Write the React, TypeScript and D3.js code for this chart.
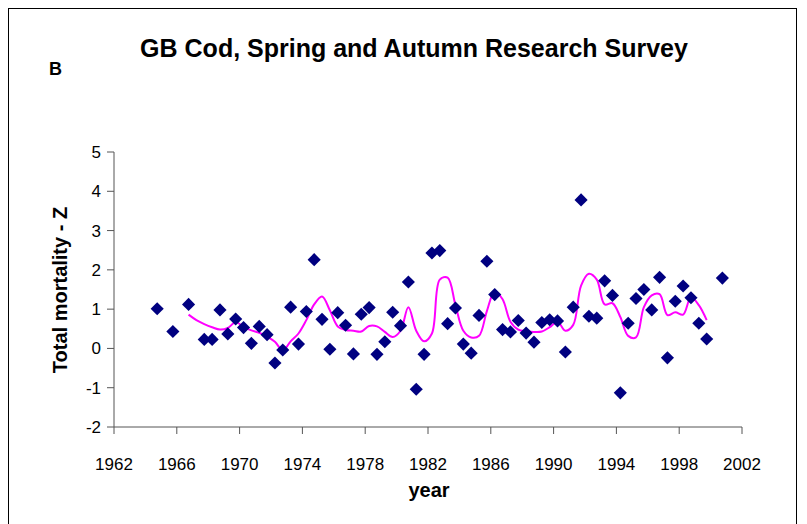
import React from "react";
import * as d3 from "d3";

// survey points (spring = .25, autumn = .75)
const years = [
  1964.75, 1965.75, 1966.75, 1967.75, 1968.25, 1968.75, 1969.25, 1969.75, 1970.25, 1970.75,
  1971.25, 1971.75, 1972.25, 1972.75, 1973.25, 1973.75, 1974.25, 1974.75, 1975.25, 1975.75,
  1976.25, 1976.75, 1977.25, 1977.75, 1978.25, 1978.75, 1979.25, 1979.75, 1980.25, 1980.75,
  1981.25, 1981.75, 1982.25, 1982.75, 1983.25, 1983.75, 1984.25, 1984.75, 1985.25, 1985.75,
  1986.25, 1986.75, 1987.25, 1987.75, 1988.25, 1988.75, 1989.25, 1989.75, 1990.25, 1990.75,
  1991.25, 1991.75, 1992.25, 1992.75, 1993.25, 1993.75, 1994.25, 1994.75, 1995.25, 1995.75,
  1996.25, 1996.75, 1997.25, 1997.75, 1998.25, 1998.75, 1999.25, 1999.75, 2000.75,
];
const zValues = [
  1.01, 0.43, 1.12, 0.23, 0.23, 0.98, 0.37, 0.75, 0.53, 0.13,
  0.56, 0.35, -0.37, -0.04, 1.05, 0.11, 0.94, 2.26, 0.74, -0.02,
  0.91, 0.59, -0.14, 0.87, 1.04, -0.15, 0.17, 0.92, 0.58, 1.69,
  -1.04, -0.15, 2.43, 2.49, 0.63, 1.03, 0.11, -0.12, 0.84, 2.22,
  1.37, 0.48, 0.42, 0.71, 0.39, 0.16, 0.66, 0.73, 0.7, -0.09,
  1.05, 3.78, 0.82, 0.77, 1.72, 1.35, -1.13, 0.64, 1.27, 1.5,
  0.98, 1.81, -0.24, 1.2, 1.59, 1.29, 0.64, 0.24, 1.79,
];

// smoothed trend
const trendYears = [
  1966.75, 1967.25, 1967.75, 1968.25, 1968.75, 1969.25, 1969.75, 1970.25, 1970.75, 1971.25,
  1971.75, 1972.25, 1972.75, 1973.25, 1973.75, 1974.25, 1974.75, 1975.25, 1975.75, 1976.25,
  1976.75, 1977.25, 1977.75, 1978.25, 1978.75, 1979.25, 1979.75, 1980.25, 1980.75, 1981.25,
  1981.75, 1982.25, 1982.75, 1983.25, 1983.75, 1984.25, 1984.75, 1985.25, 1985.75, 1986.25,
  1986.75, 1987.25, 1987.75, 1988.25, 1988.75, 1989.25, 1989.75, 1990.25, 1990.75, 1991.25,
  1991.75, 1992.25, 1992.75, 1993.25, 1993.75, 1994.25, 1994.75, 1995.25, 1995.75, 1996.25,
  1996.75, 1997.25, 1997.75, 1998.25, 1998.75, 1999.25, 1999.75,
];
const trendValues = [
  0.86, 0.72, 0.62, 0.54, 0.48, 0.52, 0.67, 0.55, 0.46, 0.4,
  0.3, 0.17, -0.05, 0.18, 0.38, 0.72, 1.12, 1.32, 0.97, 0.56,
  0.47, 0.45, 0.43, 0.57, 0.56, 0.42, 0.29, 0.45, 1.05, 0.45,
  0.18, 0.38, 1.75, 1.8, 1.1, 0.45, 0.28, 0.32, 0.95, 1.45,
  1.25, 0.68, 0.48, 0.44, 0.42, 0.43, 0.54, 0.68, 0.45, 0.6,
  1.6, 1.9, 1.75, 1.12, 1.15, 0.8, 0.32, 0.28, 1.05, 1.35,
  1.38, 0.85, 0.92, 0.86, 1.3, 1.1, 0.72,
];

const xTicks = [1962, 1966, 1970, 1974, 1978, 1982, 1986, 1990, 1994, 1998, 2002];
const yTicks = [-2, -1, 0, 1, 2, 3, 4, 5];

const W = 807;
const H = 524;
const font = "'Liberation Sans', Arial, sans-serif";

export default function App() {
  const x = d3.scaleLinear().domain([1962, 2002]).range([114, 742]);
  const y = d3.scaleLinear().domain([-2, 5]).range([427, 152]);

  const line = d3
    .line<number>()
    .x((_, i) => x(trendYears[i]))
    .y((d) => y(d))
    .curve(d3.curveCatmullRom.alpha(0.5));

  const diamond = d3.symbol().type(d3.symbolDiamond2).size(110)() as string;

  return (
    <svg width={W} height={H} style={{ position: "absolute", left: 0, top: 0 }}>
      <rect x={0} y={0} width={W} height={H} fill="#fff" />
      <rect x={8.5} y={8.5} width={788} height={540} fill="none" stroke="#000" strokeWidth={1} />

      <text x={414} y={57} textAnchor="middle" fontFamily={font} fontWeight="bold" fontSize={25}>
        GB Cod, Spring and Autumn Research Survey
      </text>
      <text x={49} y={75} fontFamily={font} fontWeight="bold" fontSize={18}>
        B
      </text>

      {/* y axis */}
      <line x1={114} x2={114} y1={y(5)} y2={y(-2)} stroke="#555" />
      {yTicks.map((t) => (
        <g key={t}>
          <line x1={107} x2={114} y1={y(t)} y2={y(t)} stroke="#555" />
          <text x={101} y={y(t) + 6} textAnchor="end" fontFamily={font} fontSize={17}>
            {t}
          </text>
        </g>
      ))}

      {/* x axis */}
      <line x1={x(1962)} x2={x(2002)} y1={427} y2={427} stroke="#555" />
      {xTicks.map((t) => (
        <g key={t}>
          <line x1={x(t)} x2={x(t)} y1={427} y2={434} stroke="#555" />
          <text x={x(t)} y={470} textAnchor="middle" fontFamily={font} fontSize={17}>
            {t}
          </text>
        </g>
      ))}

      <text x={429} y={497} textAnchor="middle" fontFamily={font} fontWeight="bold" fontSize={20}>
        year
      </text>
      <text
        transform={`translate(67,290) rotate(-90)`}
        textAnchor="middle"
        fontFamily={font}
        fontWeight="bold"
        fontSize={20}
      >
        Total mortality - Z
      </text>

      <path d={line(trendValues) || ""} fill="none" stroke="#ff00ff" strokeWidth={2} />

      {zValues.map((v, i) => (
        <path key={i} d={diamond} transform={`translate(${x(years[i])},${y(v)})`} fill="#000080" />
      ))}
    </svg>
  );
}
